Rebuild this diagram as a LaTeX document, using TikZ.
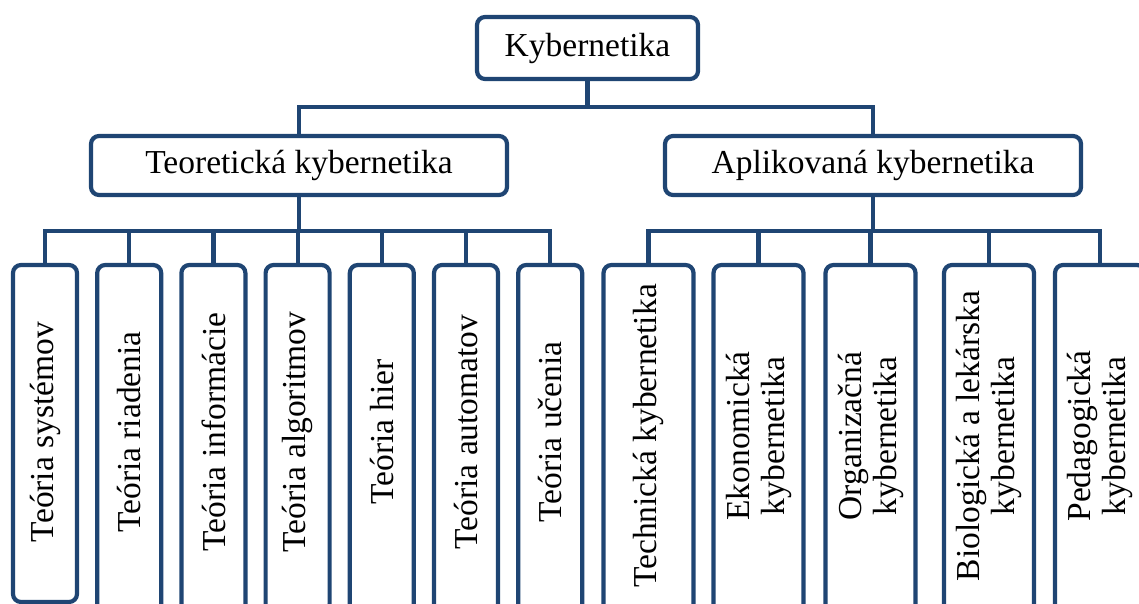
\documentclass[tikz,border=0pt]{standalone}
\usepackage{fontspec}
\setmainfont{Liberation Serif}
\definecolor{frame}{HTML}{1F4573}
\begin{document}
\begin{tikzpicture}[x=1pt,y=-1pt,
  box/.style={draw=frame, line width=4.2pt, rounded corners=8pt, fill=white, inner sep=0pt,
              font=\fontsize{33.5}{38}\selectfont},
  conn/.style={draw=frame, line width=4.2pt},
  vtext/.style={rotate=90, font=\fontsize{33.5}{35}\selectfont, align=center, inner sep=0pt}]
\useasboundingbox (0,0) rectangle (1139,604);
\clip (0,0) rectangle (1139,604);

% top levels
\node[box, minimum width=221pt, minimum height=62pt] (root) at (587.5,48) {Kybernetika};
\node[box, minimum width=416pt, minimum height=59pt] (teo) at (299,165.5) {Teoretická kybernetika};
\node[box, minimum width=416pt, minimum height=59pt] (apl) at (873,165.5) {Aplikovaná kybernetika};

% left boxes
\node[box, minimum width=64pt, minimum height=337pt] (b1) at (45,433.5) {};
\foreach \i/\x in {2/129.2,3/213.4,4/297.6,5/381.8,6/466,7/550.2}
  \node[box, minimum width=64pt, minimum height=347pt] (b\i) at (\x,438.5) {};

\node[vtext] (l1) at (b1.center |- 0,432) {Teória systémov};
\node[vtext] (l2) at (129.2,432) {Teória riadenia};
\node[vtext] (l3) at (213.4,432) {Teória informácie};
\node[vtext] (l4) at (297.6,432) {Teória algoritmov};
\node[vtext] (l5) at (381.8,432) {Teória hier};
\node[vtext] (l6) at (466,432) {Teória automatov};
\node[vtext] (l7) at (550.2,432) {Teória učenia};

% right boxes
\foreach \i/\x in {1/648.5,2/758.5,3/870.5,4/989,5/1100}
  \node[box, minimum width=90pt, minimum height=347pt] (r\i) at (\x,438.5) {};

\node[vtext] (m1) at (648.5,436) {Technická kybernetika};
\node[vtext] (m2) at (758.5,436) {Ekonomická\\kybernetika};
\node[vtext] (m3) at (870.5,436) {Organizačná\\kybernetika};
\node[vtext] (m4) at (989,436) {Biologická a lekárska\\kybernetika};
\node[vtext] (m5) at (1100,436) {Pedagogická\\kybernetika};

% connectors
\coordinate (h0) at (0,107);
\coordinate (h1) at (0,231);
\draw[conn] (root.south) -- (root.south |- h0);
\draw[conn] (teo.north) -- (teo.north |- h0) -- (apl.north |- h0) -- (apl.north);
\draw[conn] (teo.south) -- (teo.south |- h1);
\draw[conn] (apl.south) -- (apl.south |- h1);
\draw[conn] (b1.north) -- (b1.north |- h1) -- (b7.north |- h1) -- (b7.north);
\foreach \i in {2,...,6} \draw[conn] (b\i.north) -- (b\i.north |- h1);
\draw[conn] (r1.north) -- (r1.north |- h1) -- (r5.north |- h1) -- (r5.north);
\foreach \i in {2,3,4} \draw[conn] (r\i.north) -- (r\i.north |- h1);
\end{tikzpicture}
\end{document}
